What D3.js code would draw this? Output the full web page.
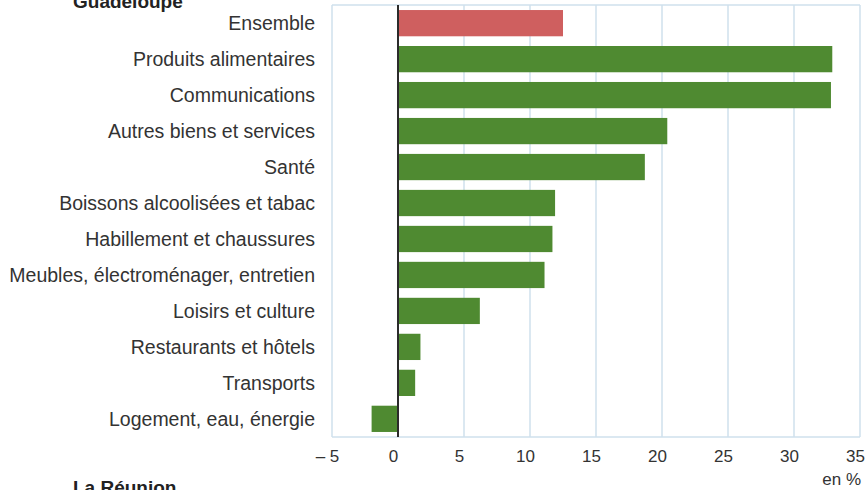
<!DOCTYPE html>
<html>
<head>
<meta charset="utf-8">
<script src="https://cdn.jsdelivr.net/npm/d3@7"></script>
<style>
  body { margin: 0; background: #fff; }
  svg { display: block; }
  .label { font-family: "Liberation Sans", Arial, sans-serif; font-size: 19.5px; fill: #333; }
  .tick-label { font-family: "Liberation Sans", Arial, sans-serif; font-size: 17px; fill: #333; }
  .title { font-family: "Liberation Sans", Arial, sans-serif; font-size: 19px; font-weight: bold; fill: #222; }
</style>
</head>
<body>
<div id="chart"></div>
<script>
const categories = [
  "Ensemble",
  "Produits alimentaires",
  "Communications",
  "Autres biens et services",
  "Santé",
  "Boissons alcoolisées et tabac",
  "Habillement et chaussures",
  "Meubles, électroménager, entretien",
  "Loisirs et culture",
  "Restaurants et hôtels",
  "Transports",
  "Logement, eau, énergie"
];

const values = [12.5, 32.9, 32.8, 20.4, 18.7, 11.9, 11.7, 11.1, 6.2, 1.7, 1.3, -2.0];

const xTicks = [-5, 0, 5, 10, 15, 20, 25, 30, 35];

const width = 867;
const height = 490;
const margin = { top: 5, right: 7, bottom: 53, left: 332 };

const svg = d3.select("#chart")
  .append("svg")
  .attr("width", width)
  .attr("height", height);

const x = d3.scaleLinear()
  .domain([-5, 35])
  .range([margin.left, width - margin.right]);

const y = d3.scaleBand()
  .domain(categories)
  .range([margin.top, height - margin.bottom])
  .paddingInner(0.27)
  .paddingOuter(0.14);

// grid lines + frame
const grid = svg.append("g").attr("class", "grid");

grid.selectAll("line.v")
  .data(xTicks)
  .enter()
  .append("line")
  .attr("class", "v")
  .attr("x1", d => x(d))
  .attr("x2", d => x(d))
  .attr("y1", margin.top)
  .attr("y2", height - margin.bottom)
  .attr("stroke", "#cfe0ed")
  .attr("stroke-width", 1.5);

grid.selectAll("line.h")
  .data([margin.top, height - margin.bottom])
  .enter()
  .append("line")
  .attr("class", "h")
  .attr("x1", x(-5))
  .attr("x2", x(35))
  .attr("y1", d => d)
  .attr("y2", d => d)
  .attr("stroke", "#cfe0ed")
  .attr("stroke-width", 1.5);

// bars
svg.append("g")
  .selectAll("rect")
  .data(categories)
  .enter()
  .append("rect")
  .attr("x", (d, i) => x(Math.min(0, values[i])))
  .attr("y", d => y(d))
  .attr("width", (d, i) => Math.abs(x(values[i]) - x(0)))
  .attr("height", y.bandwidth())
  .attr("fill", (d, i) => i === 0 ? "#cf5f5f" : "#4f8a31");

// zero line
svg.append("line")
  .attr("x1", x(0))
  .attr("x2", x(0))
  .attr("y1", margin.top)
  .attr("y2", height - margin.bottom)
  .attr("stroke", "#2b2b2b")
  .attr("stroke-width", 2);

// category labels
const yAxis = d3.axisLeft(y).tickSize(0).tickPadding(0);
svg.append("g")
  .attr("transform", `translate(${margin.left - 17},0)`)
  .call(yAxis)
  .call(g => g.select(".domain").remove())
  .selectAll("text")
  .attr("class", "label")
  .attr("fill", null)
  .attr("font-size", null)
  .attr("font-family", null)
  .attr("dy", "0.36em");

// x tick labels (sit a little left of their grid line, like the original)
const xAxis = d3.axisBottom(x)
  .tickValues(xTicks)
  .tickSize(0)
  .tickPadding(0)
  .tickFormat(d => d < 0 ? "– " + Math.abs(d) : d);

svg.append("g")
  .attr("transform", `translate(-5,${height - margin.bottom + 13})`)
  .call(xAxis)
  .call(g => g.select(".domain").remove())
  .selectAll("text")
  .attr("class", "tick-label")
  .attr("fill", null)
  .attr("font-size", null)
  .attr("font-family", null);

svg.append("text")
  .attr("class", "tick-label")
  .attr("x", x(35) + 1)
  .attr("y", 485)
  .attr("text-anchor", "end")
  .text("en %");

// panel titles
svg.append("text")
  .attr("class", "title")
  .attr("x", 73)
  .attr("y", 8)
  .text("Guadeloupe");

svg.append("text")
  .attr("class", "title")
  .attr("x", 73)
  .attr("y", 494)
  .text("La Réunion");
</script>
</body>
</html>
